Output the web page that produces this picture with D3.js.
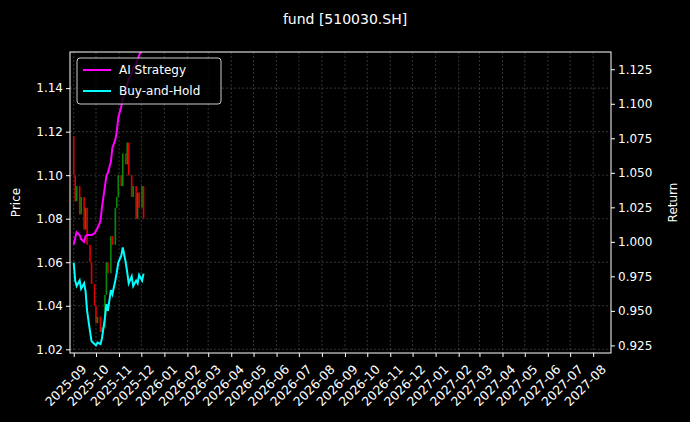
<!DOCTYPE html>
<html><head><meta charset="utf-8">
<script src="https://cdn.jsdelivr.net/npm/d3@7"></script>
<style>body{margin:0;background:#000}svg{font-family:"DejaVu Sans",sans-serif}</style>
</head><body><svg id="chart"></svg>
<script>
// every second trading day, 2025-09-01 .. 2025-12-05
const dates = ["2025-09-01","2025-09-03","2025-09-05","2025-09-09","2025-09-11","2025-09-15","2025-09-17","2025-09-19","2025-09-23","2025-09-25","2025-09-29","2025-10-01","2025-10-03","2025-10-07","2025-10-09","2025-10-13","2025-10-15","2025-10-17","2025-10-21","2025-10-23","2025-10-27","2025-10-29","2025-10-31","2025-11-04","2025-11-06","2025-11-10","2025-11-12","2025-11-14","2025-11-18","2025-11-20","2025-11-24","2025-11-26","2025-11-28","2025-12-02","2025-12-04"];
const openStart = 1.118;
const closes = [1.100,1.088,1.095,1.082,1.090,1.075,1.085,1.068,1.060,1.050,1.040,1.032,1.035,1.028,1.030,1.045,1.060,1.055,1.072,1.068,1.085,1.090,1.100,1.095,1.110,1.105,1.115,1.100,1.090,1.095,1.080,1.092,1.085,1.095,1.080];
const buyHold = [0.985,0.972,0.968,0.972,0.966,0.970,0.964,0.950,0.935,0.928,0.926,0.925,0.927,0.926,0.930,0.945,0.955,0.950,0.965,0.962,0.972,0.978,0.985,0.990,0.996,0.985,0.978,0.970,0.975,0.968,0.972,0.970,0.976,0.972,0.977];
const aiStrategy = [0.998,1.003,1.007,1.005,1.002,1.000,1.004,1.005,1.005,1.005,1.006,1.008,1.010,1.015,1.025,1.040,1.048,1.050,1.058,1.068,1.074,1.080,1.090,1.098,1.104,1.108,1.114,1.118,1.122,1.126,1.129,1.132,1.135,1.140,1.145];
const priceTicks = [1.02,1.04,1.06,1.08,1.10,1.12,1.14];
const returnTicks = [0.925,0.950,0.975,1.000,1.025,1.050,1.075,1.100,1.125];

const width = 690, height = 422;
const margin = {top: 52, right: 79, bottom: 69, left: 70};
const parse = d3.timeParse("%Y-%m-%d");
const data = dates.map((d, i) => ({
  date: parse(d),
  open: i ? closes[i-1] : openStart,
  close: closes[i],
  bh: buyHold[i],
  ai: aiStrategy[i]
}));

const svg = d3.select("#chart").attr("width", width).attr("height", height);
svg.append("rect").attr("width", width).attr("height", height).attr("fill", "#000");

const x = d3.scaleTime()
  .domain([parse("2025-08-27"), parse("2027-08-25")])
  .range([margin.left, width - margin.right]);
const y = d3.scaleLinear().domain([1.0183, 1.1566]).range([height - margin.bottom, margin.top]);
const y2 = d3.scaleLinear().domain([0.9195, 1.1375]).range([height - margin.bottom, margin.top]);
const monthTicks = d3.timeMonth.range(parse("2025-09-01"), parse("2027-09-01"));

svg.append("defs").append("clipPath").attr("id", "clip").append("rect")
  .attr("x", margin.left).attr("y", margin.top)
  .attr("width", width - margin.left - margin.right)
  .attr("height", height - margin.top - margin.bottom);

// grid
const grid = svg.append("g").attr("stroke", "#555").attr("stroke-dasharray", "2,2").attr("stroke-width", 0.6);
grid.selectAll(".gx").data(monthTicks).join("line")
  .attr("x1", d => x(d)).attr("x2", d => x(d))
  .attr("y1", margin.top).attr("y2", height - margin.bottom);
grid.selectAll(".gy").data(priceTicks).join("line")
  .attr("x1", margin.left).attr("x2", width - margin.right)
  .attr("y1", d => y(d)).attr("y2", d => y(d));

const plot = svg.append("g").attr("clip-path", "url(#clip)");
plot.selectAll(".candle").data(data).join("line")
  .attr("x1", d => x(d.date)).attr("x2", d => x(d.date))
  .attr("y1", d => y(d.open)).attr("y2", d => y(d.close))
  .attr("stroke", d => d.close >= d.open ? "#0a8a0a" : "#e00000")
  .attr("stroke-width", 1.6);

plot.append("path").datum(data).attr("fill", "none").attr("stroke", "#ff00ff").attr("stroke-width", 2)
  .attr("d", d3.line().x(d => x(d.date)).y(d => y2(d.ai)));
plot.append("path").datum(data).attr("fill", "none").attr("stroke", "#00ffff").attr("stroke-width", 2)
  .attr("d", d3.line().x(d => x(d.date)).y(d => y2(d.bh)));

// frame
svg.append("rect").attr("x", margin.left).attr("y", margin.top)
  .attr("width", width - margin.left - margin.right).attr("height", height - margin.top - margin.bottom)
  .attr("fill", "none").attr("stroke", "#fff").attr("stroke-width", 1);

function style(g) {
  g.select(".domain").remove();
  g.attr("font-size", 12).attr("font-family", "DejaVu Sans, sans-serif");
  g.selectAll(".tick line").attr("stroke", "#fff");
  g.selectAll(".tick text").attr("fill", "#fff");
}
svg.append("g").attr("transform", `translate(0,${height - margin.bottom})`)
  .call(d3.axisBottom(x).tickValues(monthTicks).tickFormat(d3.timeFormat("%Y-%m")).tickSize(4))
  .call(style)
  .attr("font-size", 12.5)
  .selectAll(".tick text").attr("text-anchor", "end")
  .attr("transform", "translate(2,6) rotate(-45)").attr("dy", "0.7em");
svg.append("g").attr("transform", `translate(${margin.left},0)`)
  .call(d3.axisLeft(y).tickValues(priceTicks).tickFormat(d3.format(".2f")).tickSize(4)).call(style);
svg.append("g").attr("transform", `translate(${width - margin.right},0)`)
  .call(d3.axisRight(y2).tickValues(returnTicks).tickFormat(d3.format(".3f")).tickSize(4)).call(style);

svg.append("text").attr("x", 16).attr("y", (margin.top + height - margin.bottom) / 2)
  .attr("transform", `rotate(-90,16,${(margin.top + height - margin.bottom) / 2})`)
  .attr("text-anchor", "middle").attr("dy", "0.35em").attr("fill", "#fff").style("font-size", "12px").text("Price");
svg.append("text").attr("x", 673).attr("y", (margin.top + height - margin.bottom) / 2)
  .attr("transform", `rotate(-90,673,${(margin.top + height - margin.bottom) / 2})`)
  .attr("text-anchor", "middle").attr("dy", "0.35em").attr("fill", "#fff").style("font-size", "12px").text("Return");
svg.append("text").attr("x", 345).attr("y", 24).attr("text-anchor", "middle")
  .attr("fill", "#fff").style("font-size", "14px").text("fund [510030.SH]");

// legend
const lg = svg.append("g").attr("transform", "translate(77,58)");
lg.append("rect").attr("width", 144).attr("height", 46).attr("rx", 3)
  .attr("fill", "#000").attr("fill-opacity", 0.8).attr("stroke", "#ccc");
[["AI Strategy", "#ff00ff"], ["Buy-and-Hold", "#00ffff"]].forEach((s, i) => {
  lg.append("line").attr("x1", 6).attr("x2", 34).attr("y1", 12 + i * 21).attr("y2", 12 + i * 21)
    .attr("stroke", s[1]).attr("stroke-width", 2);
  lg.append("text").attr("x", 42).attr("y", 12 + i * 21).attr("dy", "0.35em")
    .attr("fill", "#fff").style("font-size", "12px").text(s[0]);
});
</script></body></html>
